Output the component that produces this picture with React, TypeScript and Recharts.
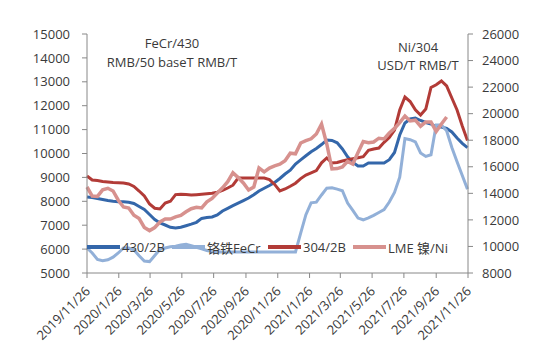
import React from "react";
import { LineChart, Line, XAxis, YAxis, Legend } from "recharts";

const FONT = "'Open Sans', 'Noto Sans CJK SC', sans-serif";

// x-axis tick labels (every two months)
const tickDates = [
  "2019/11/26", "2020/1/26", "2020/3/26", "2020/5/26", "2020/7/26",
  "2020/9/26", "2020/11/26", "2021/1/26", "2021/3/26", "2021/5/26",
  "2021/7/26", "2021/9/26", "2021/11/26",
];

const leftTicks = [5000, 6000, 7000, 8000, 9000, 10000, 11000, 12000, 13000, 14000, 15000];
const rightTicks = [8000, 10000, 12000, 14000, 16000, 18000, 20000, 22000, 24000, 26000];

const seriesNames = ["430/2B", "铬铁FeCr", "304/2B", "LME 镍/Ni"];

// observations every 10 days starting 2019/11/26
const days = Array.from({ length: 74 }, (_, i) => i * 10);

// 430/2B, RMB/T (left axis)
const s430 = [
  8180, 8155, 8117, 8075, 8033, 8000, 7983, 7983, 7958, 7908,
  7782, 7657, 7448, 7238, 7092, 7008, 6912, 6883, 6912, 6975,
  7042, 7121, 7284, 7318, 7343, 7427, 7594, 7707, 7816, 7920,
  8029, 8138, 8276, 8431, 8548, 8661, 8787, 8954, 9142, 9301,
  9561, 9732, 9904, 10071, 10209, 10376, 10565, 10544, 10448, 10188,
  9862, 9627, 9477, 9477, 9602, 9602, 9602, 9602, 9740, 10042,
  10774, 11276, 11443, 11485, 11381, 11297, 11234, 11109, 11109, 11046,
  10900, 10649, 10427, 10247,
];

// 铬铁 FeCr, RMB/50 base T (left axis)
const feCr = [
  6046, 5837, 5565, 5515, 5552, 5661, 5837, 6046, 6046, 5971,
  5720, 5502, 5477, 5736, 5987, 6046, 6100, 6121, 6172, 6205,
  6142, 6075, 6008, 5941, 5904, 5879, 5879, 5879, 5879, 5879,
  5879, 5879, 5879, 5879, 5879, 5879, 5879, 5879, 5879, 5879,
  5879, 6665, 7439, 7937, 7962, 8264, 8548, 8565, 8510, 8443,
  7929, 7623, 7297, 7226, 7305, 7414, 7531, 7653, 7971, 8372,
  9008, 10623, 10577, 10489, 10021, 9879, 9946, 11192, 11192, 10954,
  10255, 9653, 9079, 8510,
];

// 304/2B, RMB/T (right axis)
const s304 = [
  15305, 15004, 14959, 14898, 14853, 14816, 14793, 14778, 14703, 14522,
  14175, 13798, 13196, 12880, 12820, 13272, 13400, 13904, 13934, 13904,
  13874, 13897, 13927, 13965, 14002, 14085, 14228, 14401, 14612, 15154,
  15154, 15154, 15154, 15154, 15154, 15034, 14672, 14175, 14326, 14537,
  14763, 15109, 15380, 15546, 15719, 16299, 16661, 16284, 16322, 16435,
  16533, 16600, 16676, 16766, 17233, 17338, 17414, 17843, 18212, 18769,
  20276, 21255, 20916, 20291, 19899, 20351, 21970, 22173, 22460, 22084,
  21179, 20276, 19071, 17979,
];

// LME 镍/Ni, USD/T (right axis)
const lmeNi = [
  14477, 13799, 13769, 14266, 14379, 14175, 13483, 12970, 12895, 12345,
  12097, 11434, 11193, 11427, 11841, 12067, 12060, 12225, 12330, 12609,
  12842, 12955, 12902, 13354, 13618, 14025, 14416, 14876, 15553, 15185,
  14778, 14251, 14477, 15907, 15614, 15907, 16066, 16194, 16450, 17022,
  16977, 17790, 17964, 18107, 18468, 19221, 17715, 15832, 15862, 15983,
  16405, 16209, 17075, 17903, 17813, 17866, 18152, 18099, 18543, 18890,
  19326, 19823, 19447, 19507, 19055, 19372, 19379, 18657, 19221, 19748,
];

const dayOf = (s: string) => {
  const [y, m, d] = s.split("/").map(Number);
  return Math.round((Date.UTC(y, m - 1, d) - Date.UTC(2019, 10, 26)) / 86400000);
};
const tickDays = tickDates.map(dayOf);
const labelOf = (day: number) => tickDates[tickDays.indexOf(day)] ?? "";

const data = days.map((day, i) => ({
  day,
  s430: s430[i],
  feCr: feCr[i],
  s304: s304[i],
  lmeNi: lmeNi[i] ?? null,
}));

const DateTick = (props: any) => {
  const { x, y, payload } = props;
  const tx = x + 4;
  const ty = y + 12;
  return (
    <text
      x={tx}
      y={ty}
      transform={`rotate(-45 ${tx} ${ty})`}
      textAnchor="end"
      fontSize={13}
      fontFamily={FONT}
      fill="#3a3a3a"
    >
      {labelOf(payload.value)}
    </text>
  );
};

// left edge of each legend swatch, relative to the legend box
const legendLeft = [0, 85, 181, 266];

const LegendRow = (props: any) => {
  const items = [...(props.payload || [])].sort(
    (a: any, b: any) => seriesNames.indexOf(a.value) - seriesNames.indexOf(b.value)
  );
  return (
    <div style={{ position: "relative", height: 20, fontSize: 13, color: "#3a3a3a", fontFamily: FONT, whiteSpace: "nowrap" }}>
      {items.map((p: any, i: number) => (
        <div key={p.value} style={{ position: "absolute", left: legendLeft[i], top: 0, height: 20, display: "flex", alignItems: "center" }}>
          <div style={{ width: 33, height: 3.5, background: p.color, marginRight: 2 }} />
          <span>{p.value}</span>
        </div>
      ))}
    </div>
  );
};

export default function App() {
  return (
    <div style={{ position: "absolute", left: 0, top: 0, width: 550, height: 360, background: "#fff", fontFamily: FONT }}>
      <LineChart width={550} height={360} data={data} margin={{ top: 34, right: 0, bottom: 0, left: 0 }}>
        <XAxis
          dataKey="day"
          type="number"
          domain={[0, 731]}
          ticks={tickDays}
          interval={0}
          height={87}
          stroke="#888"
          tickSize={5}
          tickMargin={2}
          tick={<DateTick />}
        />
        <YAxis
          yAxisId="left"
          domain={[5000, 15000]}
          ticks={leftTicks}
          interval={0}
          width={87}
          stroke="#888"
          tickSize={5}
          tickMargin={12}
          tick={{ fill: "#3a3a3a", fontSize: 13, fontFamily: FONT }}
        />
        <YAxis
          yAxisId="right"
          orientation="right"
          domain={[8000, 26000]}
          ticks={rightTicks}
          interval={0}
          width={82}
          stroke="#888"
          tickSize={5}
          tickMargin={9}
          tick={{ fill: "#3a3a3a", fontSize: 13, fontFamily: FONT }}
        />
        <Legend
          verticalAlign="middle"
          align="center"
          content={<LegendRow />}
          wrapperStyle={{ position: "absolute", left: 87, top: 237, width: 420 }}
        />
        <Line yAxisId="left" dataKey="s430" name={seriesNames[0]} stroke="#3467AA" strokeWidth={3} dot={false} isAnimationActive={false} />
        <Line yAxisId="left" dataKey="feCr" name={seriesNames[1]} stroke="#92B0D8" strokeWidth={3} dot={false} isAnimationActive={false} />
        <Line yAxisId="right" dataKey="s304" name={seriesNames[2]} stroke="#B23B37" strokeWidth={3} dot={false} isAnimationActive={false} />
        <Line yAxisId="right" dataKey="lmeNi" name={seriesNames[3]} stroke="#D7918E" strokeWidth={3.5} dot={false} isAnimationActive={false} />
      </LineChart>
      <div style={{ position: "absolute", left: 92, top: 34, width: 160, textAlign: "center", fontSize: 13, lineHeight: "19px", color: "#3a3a3a" }}>
        FeCr/430
        <br />
        RMB/50 baseT RMB/T
      </div>
      <div style={{ position: "absolute", left: 358, top: 38, width: 120, textAlign: "center", fontSize: 13, lineHeight: "18px", color: "#3a3a3a" }}>
        Ni/304
        <br />
        USD/T RMB/T
      </div>
    </div>
  );
}
